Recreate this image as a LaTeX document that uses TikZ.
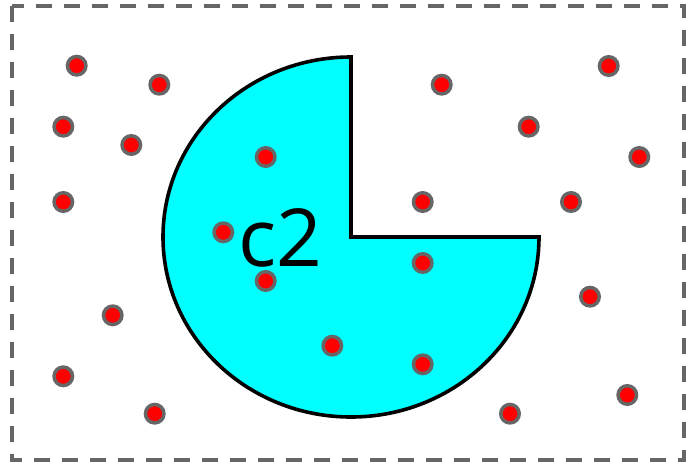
\documentclass[tikz,border=0pt]{standalone}
\usepackage{fontspec}
\setmainfont{Open Sans}
\usetikzlibrary{positioning}
\definecolor{PtGray}{HTML}{666666}
\definecolor{RegCyan}{HTML}{00FFFF}
\tikzset{pt/.style={circle,fill=red,draw=PtGray,line width=3.5pt,inner sep=0pt,minimum size=18.5pt}, region/.style={draw=black,line width=3.6pt,fill=RegCyan}, frame/.style={draw=PtGray,line width=3.6pt,dash pattern=on 16pt off 12pt}, lbl/.style={font=\fontsize{80}{86}\selectfont,inner sep=0pt,anchor=base}}

\begin{document}
\begin{tikzpicture}[x=1pt,y=-1pt]
\useasboundingbox (0,0) rectangle (686,464);
\draw[frame] (12,6) rectangle (684,460);
\coordinate (ctr) at (351,237);\coordinate (top) at (351,57);
\draw[region] (ctr) -- (top) arc[start angle=270,end angle=0,x radius=188,y radius=180] -- cycle;
\node[lbl] (c2) at (280,266) {c2};
\foreach \px/\py [count=\i] in {76.7/65.7,159.3/84.7,63.3/126.7,131.3/145,63.3/202,265.7/157,223.3/232.3,441.7/84.7,608.7/66,528.7/126.7,639.3/157,422.7/202,571/202,265.7/281,112.7/315.3,63.3/376.3,154.7/413.7,332.3/345.7,422.7/263,590/296.7,422.7/364.3,627.3/395,510/413.7}
  \node[pt] (p\i) at (\px,\py) {};
\end{tikzpicture}
\end{document}
